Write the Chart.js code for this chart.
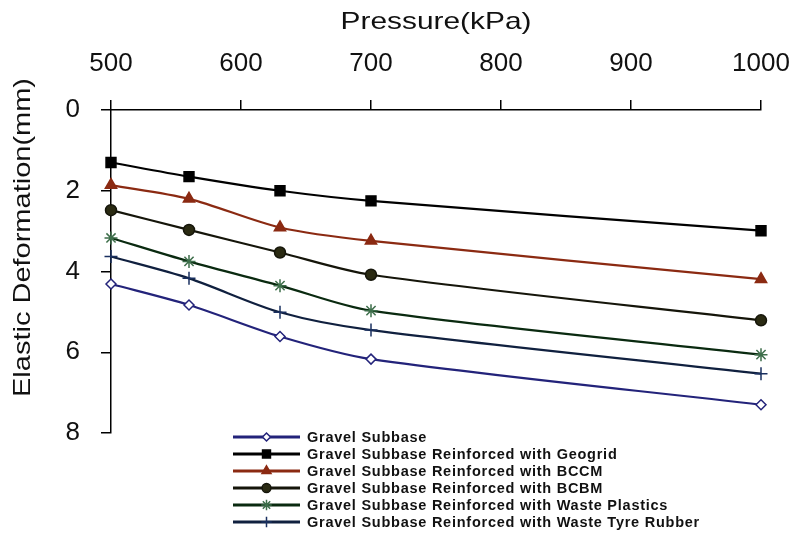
<!DOCTYPE html>
<html>
<head>
<meta charset="utf-8">
<script src="https://cdn.jsdelivr.net/npm/chart.js@4/dist/chart.umd.min.js"></script>
<style>
html,body{margin:0;padding:0;background:#fff;}
canvas{display:block;}
</style>
</head>
<body>
<canvas id="c" width="795" height="548"></canvas>
<script>
const pressures = [500, 560, 630, 700, 1000];
const seriesNames = [
  "Gravel Subbase",
  "Gravel Subbase Reinforced with Geogrid",
  "Gravel Subbase Reinforced with BCCM",
  "Gravel Subbase Reinforced with BCBM",
  "Gravel Subbase Reinforced with Waste Plastics",
  "Gravel Subbase Reinforced with Waste Tyre Rubber"
];
const gravel   = [4.31, 4.83, 5.61, 6.17, 7.30];
const geogrid  = [1.30, 1.65, 2.00, 2.25, 2.99];
const bccm     = [1.86, 2.20, 2.91, 3.24, 4.19];
const bcbm     = [2.48, 2.97, 3.53, 4.08, 5.21];
const plastics = [3.17, 3.75, 4.35, 4.97, 6.06];
const tyre     = [3.63, 4.17, 5.01, 5.45, 6.53];
const xTitle = "Pressure(kPa)";
const yTitle = "Elastic Deformation(mm)";

const FONT = "'Liberation Sans', Arial, sans-serif";

const styles = [
  {line:'#23237a', pt:'rectRot', r:5, bg:'#ffffff', bd:'#23237a'},
  {line:'#000000', pt:'rect', r:7, bg:'#000000', bd:'#000000'},
  {line:'#8b2a12', pt:'triangle', r:6.5, bg:'#8b2a12', bd:'#8b2a12'},
  {line:'#15150a', pt:'circle', r:5.5, bg:'#2a2a12', bd:'#15150a'},
  {line:'#0a2a10', pt:'star', r:6.5, bg:'#3d6e4a', bd:'#3d6e4a'},
  {line:'#10203f', pt:'cross', r:6.5, bg:'#1a3060', bd:'#1a3060'}
];
const values = [gravel, geogrid, bccm, bcbm, plastics, tyre];

const datasets = values.map((vals, i) => ({
  label: seriesNames[i],
  data: vals.map((v, j) => ({x: pressures[j], y: v})),
  borderColor: styles[i].line,
  borderWidth: 2.2,
  tension: 0.3,
  clip: false,
  pointStyle: styles[i].pt,
  pointRadius: styles[i].r,
  pointBackgroundColor: styles[i].bg,
  pointBorderColor: styles[i].bd,
  pointBorderWidth: 1.5,
  fill: false
}));

function drawMarker(ctx, style, x, y, r, bg, bd) {
  ctx.save();
  ctx.fillStyle = bg; ctx.strokeStyle = bd; ctx.lineWidth = 1.5;
  Chart.helpers.drawPoint(ctx, {pointStyle: style, radius: r, borderWidth: 1.5}, x, y);
  ctx.restore();
}

// draws a title stretched along its reading direction to a given length
function drawWideText(ctx, text, cx, cy, length, rotate) {
  ctx.save();
  ctx.fillStyle = '#111';
  ctx.font = "24px " + FONT;
  ctx.textAlign = 'center';
  ctx.textBaseline = 'middle';
  const w = ctx.measureText(text).width;
  ctx.translate(cx, cy);
  if (rotate) ctx.rotate(-Math.PI / 2);
  ctx.scale(length / w, 1);
  ctx.fillText(text, 0, 0);
  ctx.restore();
}

const customLegend = {
  id: 'customLegend',
  afterDraw(chart) {
    const ctx = chart.ctx;
    ctx.save();
    const x0 = 233, x1 = 300, tx = 307, y0 = 437, dy = 17;
    chart.data.datasets.forEach((ds, i) => {
      const y = y0 + i * dy;
      ctx.strokeStyle = ds.borderColor;
      ctx.lineWidth = 3;
      ctx.beginPath(); ctx.moveTo(x0, y); ctx.lineTo(x1, y); ctx.stroke();
      drawMarker(ctx, ds.pointStyle, (x0 + x1) / 2, y, ds.pointRadius * 0.8, ds.pointBackgroundColor, ds.pointBorderColor);
      ctx.fillStyle = '#111';
      ctx.font = "bold 14.5px " + FONT;
      ctx.letterSpacing = '0.75px';
      ctx.textBaseline = 'middle';
      ctx.textAlign = 'left';
      ctx.fillText(ds.label, tx, y + 0.5);
    });
    ctx.restore();

    const xs = chart.scales.x, ys = chart.scales.y;
    drawWideText(ctx, xTitle, (xs.left + xs.right) / 2, 22, 191, false);
    drawWideText(ctx, yTitle, 23, (ys.top + ys.bottom) / 2 - 34, 319, true);
  }
};

const PAD = { left: 12, right: 34, top: 7, bottom: 115 };

new Chart(document.getElementById('c'), {
  type: 'line',
  data: { datasets },
  plugins: [customLegend],
  options: {
    responsive: false,
    animation: false,
    events: [],
    layout: { padding: PAD },
    plugins: { legend: { display: false }, tooltip: { enabled: false } },
    scales: {
      x: {
        type: 'linear',
        position: 'top',
        min: 500, max: 1000,
        ticks: { stepSize: 100, color: '#111', font: { family: FONT, size: 26 }, padding: 21, maxRotation: 0,
                 callback: (v) => String(v) },
        grid: { drawOnChartArea: false, drawTicks: true, tickLength: 10, color: '#000', lineWidth: 1.5 },
        border: { display: true, color: '#000', width: 1.5 },
        title: { display: false, text: xTitle },
        afterFit(s) { s.height = 110 - PAD.top; s.paddingLeft = 0; s.paddingRight = 0; s.paddingTop = 0; s.paddingBottom = 0; }
      },
      y: {
        type: 'linear',
        reverse: true,
        min: 0, max: 8,
        ticks: { stepSize: 2, color: '#111', font: { family: FONT, size: 26 }, padding: 21 },
        grid: { drawOnChartArea: false, drawTicks: true, tickLength: 10, color: '#000', lineWidth: 1.5 },
        border: { display: true, color: '#000', width: 1.5 },
        title: { display: false, text: yTitle },
        afterFit(s) { s.width = 111 - PAD.left; s.paddingLeft = 0; s.paddingRight = 0; s.paddingTop = 0; s.paddingBottom = 0; }
      }
    }
  }
});
</script>
</body>
</html>
